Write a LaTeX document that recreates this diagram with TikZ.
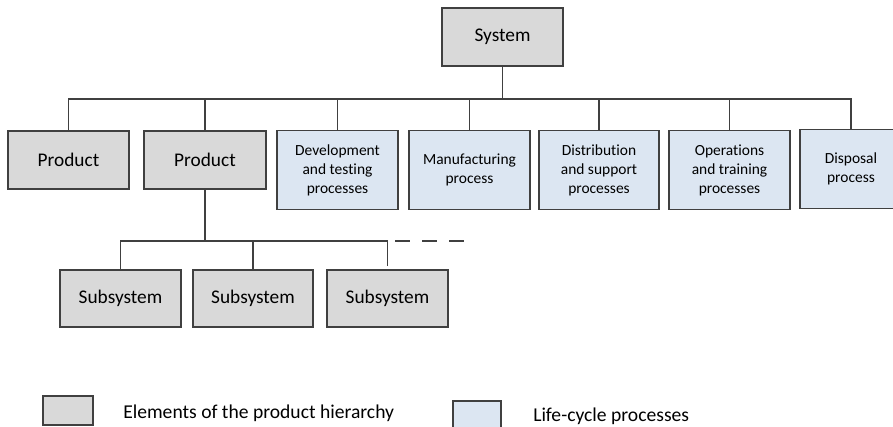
\documentclass[tikz,border=0pt]{standalone}
\usepackage{fontspec}
\setmainfont{Carlito}[Ligatures=NoCommon]
\begin{document}
\begin{tikzpicture}[x=0.75pt,y=-0.75pt,
	elembox/.style={draw=linegray,line width=1.4pt,fill=elemgray,inner sep=0pt,minimum width=90.75pt,minimum height=43.5pt,font=\fontsize{14.5}{17}\selectfont},
	procbox/.style={draw=linegray,line width=1.4pt,fill=procblue,inner sep=0pt,minimum width=90.75pt,minimum height=59.25pt,align=center,font=\fontsize{11.6}{14.25}\selectfont},
	link/.style={draw=linegray,line width=1.4pt},
	legendtext/.style={anchor=base west,inner sep=0pt,font=\fontsize{14.7}{17}\selectfont}]
					\definecolor{elemgray}{HTML}{D9D9D9}
					\definecolor{procblue}{HTML}{DCE6F2}
					\definecolor{linegray}{HTML}{404040}
					\useasboundingbox (0,0) rectangle (893,426);
					\clip (0,0) rectangle (893,426);
					\node[elembox] (system) at (502.5,37) {System};
					\node[elembox] (prodA) at (68.5,160) {Product};
					\node[elembox,minimum width=91.5pt] (prodB) at (205,160) {Product};
					\node[procbox] (devel) at (337.5,170) {Development\\and testing\\processes};
					\node[procbox] (manuf) at (469.5,170) {Manufacturing\\process};
					\node[procbox,minimum width=90pt] (distrib) at (599,170) {Distribution\\and support\\processes};
					\node[procbox] (operat) at (729.5,170) {Operations\\and training\\processes};
					\node[procbox,minimum width=76.5pt] (dispos) at (851,169) {Disposal\\process};
					\node[elembox,minimum height=42.75pt] (subA) at (120.5,298.5) {Subsystem};
					\node[elembox,minimum width=90pt,minimum height=42.75pt] (subB) at (253,298.5) {Subsystem};
					\node[elembox,minimum height=42.75pt] (subC) at (387.5,298.5) {Subsystem};
					\coordinate (topbus) at (502.5,99);
					\coordinate (subbus) at (205,241);
					\coordinate (subCend) at (387.5,266);
					\coordinate (dashA) at (395,241);
					\coordinate (dashB) at (465,241);
					\draw[link] (system.south) -- (topbus);
					\draw[link] (prodA.north) |- (topbus);
					\draw[link] (prodB.north) |- (topbus);
					\draw[link] (devel.north) |- (topbus);
					\draw[link] (manuf.north) |- (topbus);
					\draw[link] (distrib.north) |- (topbus);
					\draw[link] (operat.north) |- (topbus);
					\draw[link] (dispos.north) |- (topbus);
					\draw[link] (prodB.south) -- (subbus);
					\draw[link] (subA.north) |- (subbus);
					\draw[link] (subB.north) |- (subbus);
					\draw[link] (subCend) |- (subbus);
					\draw[link,dash pattern=on 11.25pt off 9pt] (dashA) -- (dashB);
					\node[elembox,minimum width=37.5pt,minimum height=21.75pt] (legelem) at (68,410.5) {};
					\node[procbox,minimum width=36pt,minimum height=21.75pt] (legproc) at (477,415.5) {};
					\node[legendtext] (legelemtext) at (123,418) {Elements of the product hierarchy};
					\node[legendtext] (legproctext) at (533,421) {Life-cycle processes};
				\end{tikzpicture}
\end{document}
